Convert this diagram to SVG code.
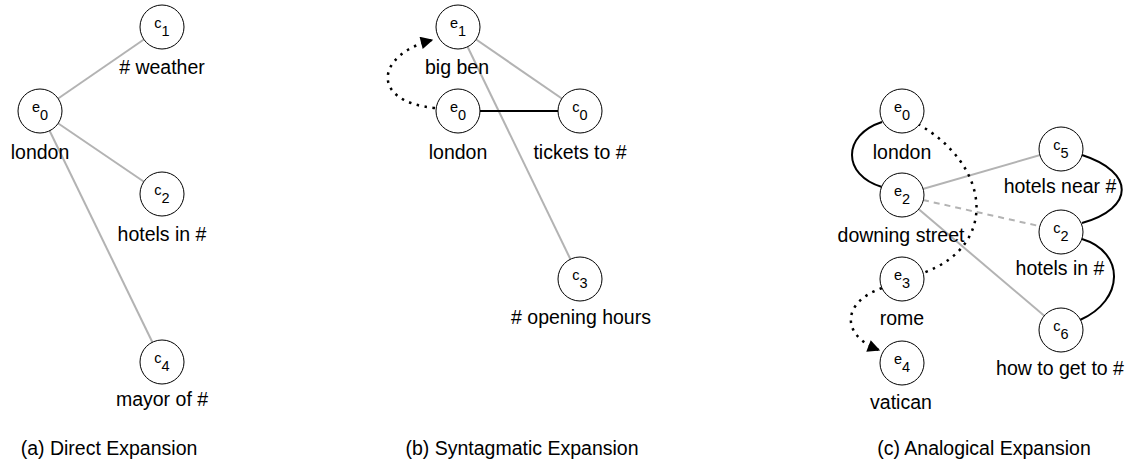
<svg xmlns="http://www.w3.org/2000/svg" width="1131" height="465" viewBox="0 0 1131 465">
  <style>
    .node circle { fill: #ffffff; stroke: #000000; stroke-width: 1; }
    .sym { font-family: "Liberation Sans", Arial, sans-serif; font-size: 14.5px; text-anchor: middle; fill: #000; }
    .lbl { font-family: "Liberation Sans", Arial, sans-serif; font-size: 19.5px; text-anchor: middle; fill: #000; }
    .cap { font-family: "Liberation Sans", Arial, sans-serif; font-size: 19.5px; text-anchor: middle; fill: #000; }
    .gray { stroke: #b3b3b3; stroke-width: 2; fill: none; }
    .grayDash { stroke: #b3b3b3; stroke-width: 2; fill: none; stroke-dasharray: 6 5; }
    .black { stroke: #000000; stroke-width: 2; fill: none; }
    .dotted { stroke: #000000; stroke-width: 2.5; fill: none; stroke-dasharray: 2.5 5.5; }
  </style>
  <defs>
    <marker id="arrow" viewBox="0 0 10 10" refX="9" refY="5" markerWidth="5.5" markerHeight="5" markerUnits="strokeWidth" orient="auto">
      <path d="M0,0 L10,5 L0,10 Z" fill="#000"/>
    </marker>
  </defs>

  <rect width="1131" height="465" fill="#ffffff"/>

  <!-- connectors -->
  <g id="connectors">
    <!-- (a) direct expansion -->
    <line class="gray" x1="40" y1="111" x2="162" y2="27"/>
    <line class="gray" x1="40" y1="111" x2="162" y2="194"/>
    <line class="gray" x1="40" y1="111" x2="162" y2="362"/>
    <!-- (b) syntagmatic expansion -->
    <line class="gray" x1="458" y1="27" x2="580" y2="111"/>
    <line class="gray" x1="458" y1="27" x2="580" y2="279"/>
    <line class="black" x1="458" y1="111" x2="580" y2="111"/>
    <path class="dotted" d="M435,108 C370,102 375,55 432,40" marker-end="url(#arrow)"/>
    <!-- (c) analogical expansion -->
    <path class="black" d="M882,122 C842,135 842,175 882,187"/>
    <path class="black" d="M1082,155 C1135,172 1135,208 1082,223"/>
    <path class="black" d="M1082,239 C1125,252 1125,300 1080,320"/>
    <line class="gray" x1="902" y1="195" x2="1061" y2="149"/>
    <line class="grayDash" x1="923" y1="200" x2="1039" y2="226"/>
    <line class="gray" x1="902" y1="195" x2="1061" y2="330"/>
    <path class="dotted" d="M918,124 C990,165 1000,245 923,273"/>
    <path class="dotted" d="M882,288 C842,302 840,335 879,350" marker-end="url(#arrow)"/>
  </g>

  <!-- (a) nodes -->
  <g id="a-c1" class="node">
    <circle cx="162" cy="27" r="22"/>
    <text class="sym" x="162" y="28">c<tspan dy="8">1</tspan></text>
    <text class="lbl" x="162" y="74"># weather</text>
  </g>
  <g id="a-e0" class="node">
    <circle cx="40" cy="111" r="22"/>
    <text class="sym" x="40" y="112">e<tspan dy="8">0</tspan></text>
    <text class="lbl" x="40" y="159">london</text>
  </g>
  <g id="a-c2" class="node">
    <circle cx="162" cy="194" r="22"/>
    <text class="sym" x="162" y="195">c<tspan dy="8">2</tspan></text>
    <text class="lbl" x="162" y="241">hotels in #</text>
  </g>
  <g id="a-c4" class="node">
    <circle cx="162" cy="362" r="22"/>
    <text class="sym" x="162" y="363">c<tspan dy="8">4</tspan></text>
    <text class="lbl" x="162" y="406">mayor of #</text>
  </g>

  <!-- (b) nodes -->
  <g id="b-e1" class="node">
    <circle cx="458" cy="27" r="22"/>
    <text class="sym" x="458" y="28">e<tspan dy="8">1</tspan></text>
    <text class="lbl" x="457" y="74">big ben</text>
  </g>
  <g id="b-e0" class="node">
    <circle cx="458" cy="111" r="22"/>
    <text class="sym" x="458" y="112">e<tspan dy="8">0</tspan></text>
    <text class="lbl" x="458" y="159">london</text>
  </g>
  <g id="b-c0" class="node">
    <circle cx="580" cy="111" r="22"/>
    <text class="sym" x="580" y="112">c<tspan dy="8">0</tspan></text>
    <text class="lbl" x="580" y="159">tickets to #</text>
  </g>
  <g id="b-c3" class="node">
    <circle cx="580" cy="279" r="22"/>
    <text class="sym" x="580" y="280">c<tspan dy="8">3</tspan></text>
    <text class="lbl" x="581" y="324"># opening hours</text>
  </g>

  <!-- (c) nodes -->
  <g id="c-e0" class="node">
    <circle cx="902" cy="111" r="22"/>
    <text class="sym" x="902" y="112">e<tspan dy="8">0</tspan></text>
    <text class="lbl" x="902" y="159">london</text>
  </g>
  <g id="c-e2" class="node">
    <circle cx="902" cy="195" r="22"/>
    <text class="sym" x="902" y="196">e<tspan dy="8">2</tspan></text>
    <text class="lbl" x="901" y="242">downing street</text>
  </g>
  <g id="c-e3" class="node">
    <circle cx="902" cy="279" r="22"/>
    <text class="sym" x="902" y="280">e<tspan dy="8">3</tspan></text>
    <text class="lbl" x="902" y="325">rome</text>
  </g>
  <g id="c-e4" class="node">
    <circle cx="902" cy="363" r="22"/>
    <text class="sym" x="902" y="364">e<tspan dy="8">4</tspan></text>
    <text class="lbl" x="901" y="409">vatican</text>
  </g>
  <g id="c-c5" class="node">
    <circle cx="1061" cy="149" r="22"/>
    <text class="sym" x="1061" y="150">c<tspan dy="8">5</tspan></text>
    <text class="lbl" x="1060" y="193">hotels near #</text>
  </g>
  <g id="c-c2" class="node">
    <circle cx="1061" cy="232" r="22"/>
    <text class="sym" x="1061" y="233">c<tspan dy="8">2</tspan></text>
    <text class="lbl" x="1060" y="275">hotels in #</text>
  </g>
  <g id="c-c6" class="node">
    <circle cx="1061" cy="330" r="22"/>
    <text class="sym" x="1061" y="331">c<tspan dy="8">6</tspan></text>
    <text class="lbl" x="1060" y="375">how to get to #</text>
  </g>

  <!-- captions -->
  <text class="cap" x="109" y="455">(a) Direct Expansion</text>
  <text class="cap" x="522" y="455">(b) Syntagmatic Expansion</text>
  <text class="cap" x="984" y="455">(c) Analogical Expansion</text>
</svg>
